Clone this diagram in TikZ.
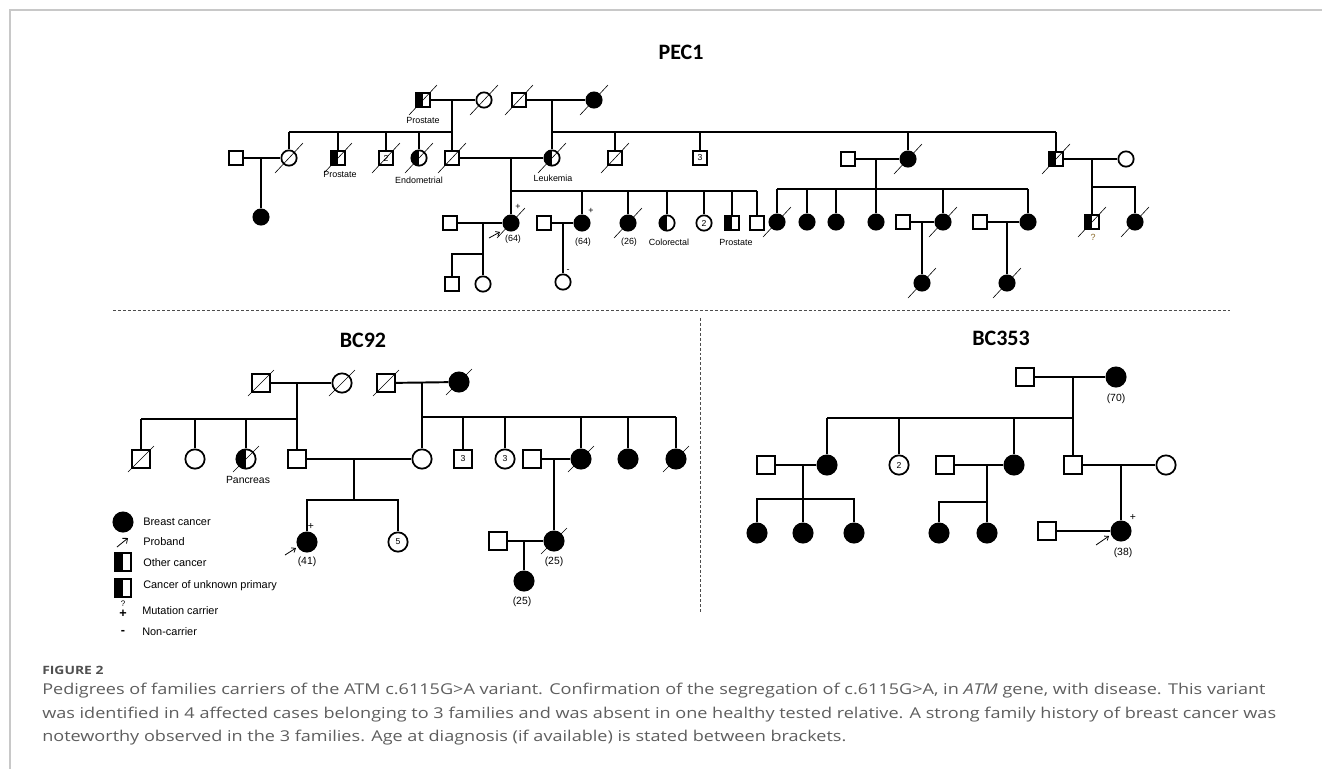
\documentclass[tikz,border=0pt]{standalone}
\usepackage{fontspec}
\newfontfamily\labfont{Liberation Sans}
\newfontfamily\headfont{Carlito}
\newfontfamily\capfont[FakeStretch=1.21]{Open Sans}
\usetikzlibrary{calc,arrows.meta}
\definecolor{framegray}{HTML}{C8C8C8}
\definecolor{capgray}{HTML}{5E5E5E}
\definecolor{qbrown}{HTML}{8A6A2A}
\begin{document}
\begin{tikzpicture}[x=0.75pt, y=-0.75pt,
   ped/.style={line width=1.45pt},
   male/.style={rectangle, draw, line width=1.3pt, fill=white, inner sep=0pt, minimum size=10.5pt},
   female/.style={circle, draw, line width=1.3pt, fill=white, inner sep=0pt, minimum size=11.5pt},
   large/.style={minimum size=13.5pt},
   larger/.style={minimum size=14.5pt},
   aff/.style={fill=black},
   half/.style={path picture={\fill[black] (path picture bounding box.south west) rectangle (path picture bounding box.north);}},
   slash/.style={line width=0.45pt},
   pro/.style={line width=0.6pt, -{Straight Barb[length=2.5pt,width=4pt]}},
   num/.style={font=\labfont\fontsize{6.5}{7}\selectfont},
   tag/.style={font=\labfont\fontsize{6.7}{7}\selectfont, inner sep=0pt},
   btag/.style={font=\labfont\fontsize{7.8}{8}\selectfont, inner sep=0pt},
   key/.style={font=\labfont\fontsize{8.2}{9}\selectfont, inner sep=0pt, anchor=west},
   head/.style={font=\headfont\bfseries\fontsize{16.5}{18}\selectfont},
   sep/.style={line width=0.7pt, black!70, dash pattern=on 2.2pt off 1.5pt},
   captext/.style={font=\capfont\fontsize{11.2}{12}\selectfont, text=capgray, anchor=base west, inner sep=0pt}]
\useasboundingbox (0,0) rectangle (1322,769);
\draw[framegray, line width=1.1pt] (1322,10) -- (10,10) -- (10,769);

% ---------------- PEC1 ----------------
\node[head] (t1) at (681,52) {PEC1};
% generation I
\node[male, half] (pa) at (423,100) {};
\node[female] (pb) at (484,100) {};
\node[male] (pc) at (519,100) {};
\node[female, aff] (pd) at (594,100) {};
% generation II
\node[male] (p1) at (236,158) {};
\node[female] (p2) at (289,158) {};
\node[male, half] (p3) at (338,158) {};
\node[male, num] (p4) at (386,158) {2};
\node[female, half] (p5) at (419,158) {};
\node[male] (p6) at (452,158) {};
\node[female, half] (p7) at (552,158) {};
\node[male] (p8) at (615,158) {};
\node[male, num] (p9) at (700,158) {3};
\node[male] (p10) at (848,159) {};
\node[female, aff] (p11) at (908,159) {};
\node[male, half] (p12) at (1056,159) {};
\node[female] (p13) at (1126,159) {};
% generation III
\node[female, aff] (q1) at (261,217) {};
\node[male] (q2) at (450,223) {};
\node[female, aff] (q3) at (511,223) {};
\node[male] (q4) at (544,223) {};
\node[female, aff] (q5) at (582,223) {};
\node[female, aff] (q6) at (628,223) {};
\node[female, half] (q7) at (667,223) {};
\node[female, num] (q8) at (704,223) {2};
\node[male, half] (q9) at (732,223) {};
\node[male] (q10) at (757,223) {};
\node[female, aff] (q11) at (777,222) {};
\node[female, aff] (q12) at (807,222) {};
\node[female, aff] (q13) at (836,222) {};
\node[female, aff] (q14) at (876,222) {};
\node[male] (q15) at (903,222) {};
\node[female, aff] (q16) at (943,222) {};
\node[male] (q17) at (980,222) {};
\node[female, aff] (q18) at (1028,222) {};
\node[male, half] (q19) at (1092,222) {};
\node[female, aff] (q20) at (1135,222) {};
% generation IV
\node[male] (r1) at (452,284) {};
\node[female] (r2) at (483,284) {};
\node[female] (r3) at (563,282) {};
\node[female, aff] (r4) at (922,283) {};
\node[female, aff] (r5) at (1007,283) {};

% junctions
\coordinate (ma) at (452,100); \coordinate (sa) at (452,132);
\coordinate (mb) at (552,100); \coordinate (sb) at (552,132);
\coordinate (mc) at (261,158);
\coordinate (md) at (511,158); \coordinate (sd) at (511,191);
\coordinate (me) at (876,159); \coordinate (se) at (876,189);
\coordinate (mf) at (1092,159); \coordinate (sf) at (1092,187);
\coordinate (mg) at (483,223); \coordinate (sg) at (483,254);
\coordinate (mh) at (563,223);
\coordinate (mi) at (922,222);
\coordinate (mj) at (1007,222);

\draw[ped] (pa) -- (pb);
\draw[ped] (pc) -- (pd);
\draw[ped] (ma) -- (p6);
\draw[ped] (mb) -- (p7);
\draw[ped] (p2 |- sa) -- (sa);
\foreach \c in {p2,p3,p4,p5} \draw[ped] (\c |- sa) -- (\c);
\draw[ped] (sb) -- (p12 |- sb);
\foreach \c in {p8,p9,p11,p12} \draw[ped] (\c |- sb) -- (\c);
\draw[ped] (p1) -- (p2);
\draw[ped] (mc) -- (q1);
\draw[ped] (p6) -- (p7);
\draw[ped] (md) -- (q3);
\draw[ped] (sd) -- (q10 |- sd);
\foreach \c in {q5,q6,q7,q8,q9,q10} \draw[ped] (\c |- sd) -- (\c);
\draw[ped] (p10) -- (p11);
\draw[ped] (me) -- (q14);
\draw[ped] (q11 |- se) -- (q18 |- se);
\foreach \c in {q11,q12,q13,q16,q18} \draw[ped] (\c |- se) -- (\c);
\draw[ped] (p12) -- (p13);
\draw[ped] (mf) -- (q19);
\draw[ped] (sf) -- (q20 |- sf) -- (q20);
\draw[ped] (q2) -- (q3);
\draw[ped] (mg) -- (r2);
\draw[ped] (sg) -- (r1 |- sg) -- (r1);
\draw[ped] (q4) -- (q5);
\draw[ped] (mh) -- (r3);
\draw[ped] (q15) -- (q16);
\draw[ped] (mi) -- (r4);
\draw[ped] (q17) -- (q18);
\draw[ped] (mj) -- (r5);

\foreach \n in {pa,pb,pc,pd,p2,p3,p4,p5,p6,p7,p8,p11,p12,q3,q6,q11,q16,q19,q20,r4,r5}
  \draw[slash] ([shift={(-14,15)}]\n.center) -- ([shift={(14,-15)}]\n.center);

\node[tag] (l1) at (423,120) {Prostate};
\node[tag] (l2) at (340,174) {Prostate};
\node[tag] (l3) at (419,180) {Endometrial};
\node[tag] (l4) at (553,178) {Leukemia};
\node[tag] (l5) at (513,239) {(64)};
\node[tag] (l6) at (583,242) {(64)};
\node[tag] (l7) at (629,242) {(26)};
\node[tag] (l8) at (669,242) {Colorectal};
\node[tag] (l9) at (736,242) {Prostate};
\node[tag, text=qbrown] (l10) at (1093,237) {?};
\node[tag] (l11) at (518,207) {+};
\node[tag] (l12) at (591,211) {+};
\node[tag] (l13) at (568,271) {-};
\draw[pro] ([shift={(-22,15)}]q3.center) -- ([shift={(-11,9)}]q3.center);

% ---------------- separators ----------------
\coordinate (h1) at (113,310); \coordinate (h2) at (1230,310);
\coordinate (v1) at (700,318); \coordinate (v2) at (700,613);
\draw[sep] (h1) -- (h2);
\draw[sep] (v1) -- (v2);

% ---------------- BC92 ----------------
\node[head] (t2) at (363,340) {BC92};
\node[male, large] (b1) at (261,383) {};
\node[female, larger] (b2) at (342,383) {};
\node[male, large] (b3) at (386,383) {};
\node[female, larger, aff] (b4) at (459,382) {};
\node[male, large] (b5) at (141,459) {};
\node[female, larger] (b6) at (195,459) {};
\node[female, larger, half] (b7) at (246,459) {};
\node[male, large] (b8) at (297,459) {};
\node[female, larger] (b9) at (422,459) {};
\node[male, large, num] (b10) at (463,459) {3};
\node[female, larger, num] (b11) at (505,459) {3};
\node[male, large] (b12) at (532,459) {};
\node[female, larger, aff] (b13) at (581,459) {};
\node[female, larger, aff] (b14) at (628,459) {};
\node[female, larger, aff] (b15) at (676,459) {};
\node[female, larger, aff] (b16) at (307,542) {};
\node[female, larger, num] (b17) at (398,542) {5};
\node[male, large] (b18) at (498,541) {};
\node[female, larger, aff] (b19) at (554,541) {};
\node[female, larger, aff] (b20) at (524,581) {};

\coordinate (na) at (297,383); \coordinate (ta) at (297,419);
\coordinate (nb) at (422,383); \coordinate (tb) at (422,417);
\coordinate (nc) at (354,459); \coordinate (tc) at (354,500);
\coordinate (nd) at (554,459);
\coordinate (ne) at (524,541);

\draw[ped] (b1) -- (b2);
\draw[ped] (b3) -- (b4);
\draw[ped] (na) -- (b8);
\draw[ped] (b5 |- ta) -- (ta);
\foreach \c in {b5,b6,b7} \draw[ped] (\c |- ta) -- (\c);
\draw[ped] (nb) -- (b9);
\draw[ped] (tb) -- (b15 |- tb);
\foreach \c in {b10,b11,b13,b14,b15} \draw[ped] (\c |- tb) -- (\c);
\draw[ped] (b8) -- (b9);
\draw[ped] (nc) -- (tc);
\draw[ped] (b16) |- (tc) -| (b17);
\draw[ped] (b12) -- (b13);
\draw[ped] (nd) -- (b19);
\draw[ped] (b18) -- (b19);
\draw[ped] (ne) -- (b20);

\foreach \n in {b1,b2,b3,b4,b5,b7,b13,b15,b19}
  \draw[slash] ([shift={(-13,13)}]\n.center) -- ([shift={(13,-13)}]\n.center);

\node[btag] (k1) at (248,480) {Pancreas};
\node[btag] (k2) at (311,526) {+};
\node[btag] (k3) at (307,562) {(41)};
\node[btag] (k4) at (554,562) {(25)};
\node[btag] (k5) at (522,602) {(25)};
\draw[pro] ([shift={(-22,13)}]b16.center) -- ([shift={(-11,6)}]b16.center);

% legend
\node[female, larger, aff] (g1) at (123,522) {};
\node[key] (g1t) at (143,522) {Breast cancer};
\coordinate (g2) at (123,542);
\draw[pro, -{Straight Barb[length=3pt,width=5pt]}] ([shift={(-6,5)}]g2) -- ([shift={(5,-4)}]g2);
\node[key] (g2t) at (143,542) {Proband};
\node[rectangle, draw, line width=1.3pt, fill=white, inner sep=0pt, minimum width=12pt, minimum height=13.5pt, half] (g3) at (123,562) {};
\node[key] (g3t) at (143,563) {Other cancer};
\node[rectangle, draw, line width=1.3pt, fill=white, inner sep=0pt, minimum width=12pt, minimum height=13.5pt, half] (g4) at (123,588) {};
\node[key] (g4t) at (143,586) {Cancer of unknown primary};
\node[font=\labfont\fontsize{6}{6}\selectfont, inner sep=0pt] (g5) at (123,604) {?};
\node[font=\labfont\bfseries\fontsize{9.5}{9}\selectfont, inner sep=0pt] (g6) at (123,614) {+};
\node[key] (g6t) at (142,611) {Mutation carrier};
\node[font=\labfont\bfseries\fontsize{9.5}{9}\selectfont, inner sep=0pt] (g7) at (123,632) {-};
\node[key] (g7t) at (142,632) {Non-carrier};

% ---------------- BC353 ----------------
\node[head] (t3) at (1001,338) {BC353};
\node[male, large] (c1) at (1025,377) {};
\node[female, larger, aff] (c2) at (1116,377) {};
\node[male, large] (c3) at (766,465) {};
\node[female, larger, aff] (c4) at (827,465) {};
\node[female, larger, num] (c5) at (899,465) {2};
\node[male, large] (c6) at (945,465) {};
\node[female, larger, aff] (c7) at (1014,465) {};
\node[male, large] (c8) at (1073,465) {};
\node[female, larger] (c9) at (1166,465) {};
\node[female, larger, aff] (c10) at (757,533) {};
\node[female, larger, aff] (c11) at (803,533) {};
\node[female, larger, aff] (c12) at (854,533) {};
\node[female, larger, aff] (c13) at (939,533) {};
\node[female, larger, aff] (c14) at (987,533) {};
\node[male, large] (c15) at (1047,531) {};
\node[female, larger, aff] (c16) at (1121,531) {};

\coordinate (oa) at (1073,377); \coordinate (ua) at (1073,418);
\coordinate (ob) at (803,465); \coordinate (ub) at (803,499);
\coordinate (oc) at (987,465); \coordinate (uc) at (987,502);
\coordinate (od) at (1121,465);

\draw[ped] (c1) -- (c2);
\draw[ped] (oa) -- (c8);
\draw[ped] (c4 |- ua) -- (ua);
\foreach \c in {c4,c5,c7} \draw[ped] (\c |- ua) -- (\c);
\draw[ped] (c3) -- (c4);
\draw[ped] (ob) -- (c11);
\draw[ped] (c10) |- (ub) -| (c12);
\draw[ped] (c6) -- (c7);
\draw[ped] (oc) -- (c14);
\draw[ped] (uc) -| (c13);
\draw[ped] (c8) -- (c9);
\draw[ped] (od) -- (c16);
\draw[ped] (c15) -- (c16);

\node[btag] (k6) at (1116,399) {(70)};
\node[btag] (k7) at (1133,517) {+};
\node[btag] (k8) at (1123,553) {(38)};
\draw[pro] ([shift={(-25,14)}]c16.center) -- ([shift={(-12,5)}]c16.center);

% ---------------- caption ----------------
\node[font=\capfont\bfseries\fontsize{8.6}{10}\selectfont, text=capgray!85!black, anchor=base west, inner sep=0pt] (f0) at (42,674) {FIGURE 2};
\node[captext] (f1) at (42,694) {Pedigrees of families carriers of the ATM c.6115G>A variant. Confirmation of the segregation of c.6115G>A, in \textit{ATM} gene, with disease. This variant};
\node[captext] (f2) at (42,718) {was identified in 4 affected cases belonging to 3 families and was absent in one healthy tested relative. A strong family history of breast cancer was};
\node[captext] (f3) at (42,741) {noteworthy observed in the 3 families. Age at diagnosis (if available) is stated between brackets.};
\end{tikzpicture}
\end{document}
